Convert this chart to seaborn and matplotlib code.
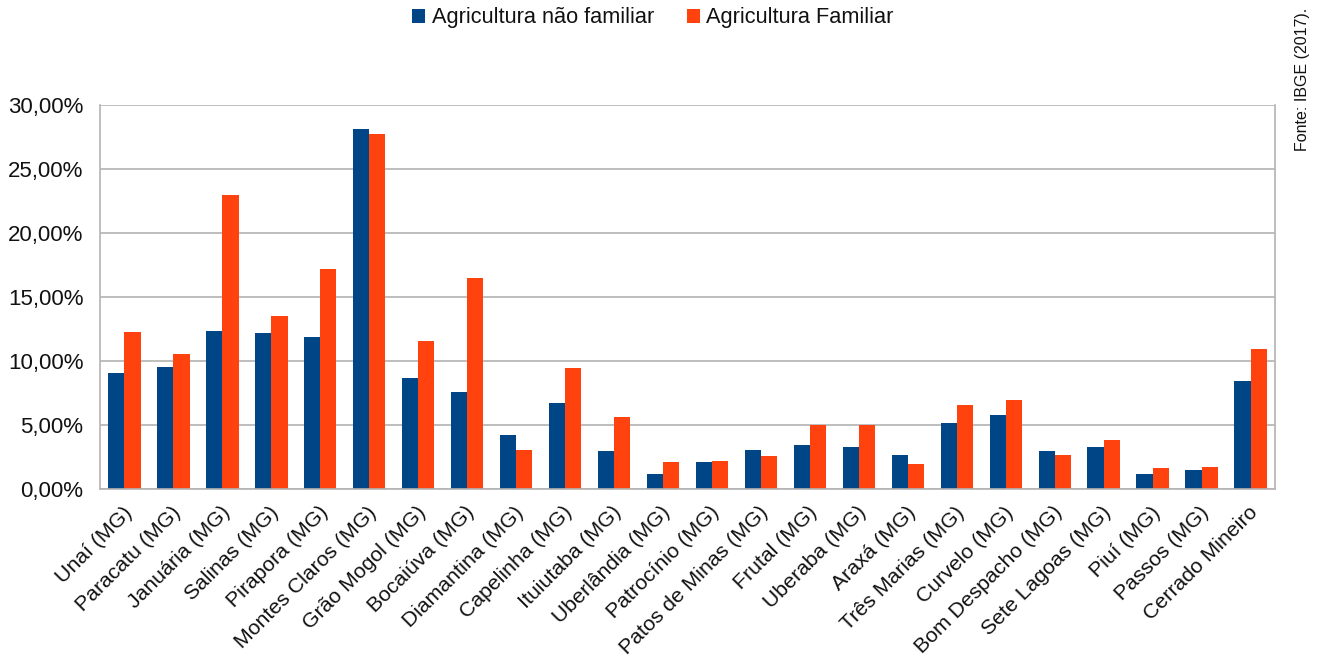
import matplotlib
matplotlib.use("Agg")
import matplotlib.pyplot as plt
import matplotlib.transforms as mtrans
import seaborn as sns
import pandas as pd
import numpy as np
from matplotlib.ticker import FuncFormatter, FixedLocator, MultipleLocator
from matplotlib.patches import Patch

categories = ["Unaí (MG)", "Paracatu (MG)", "Januária (MG)", "Salinas (MG)", "Pirapora (MG)",
              "Montes Claros (MG)", "Grão Mogol (MG)", "Bocaiúva (MG)", "Diamantina (MG)",
              "Capelinha (MG)", "Ituiutaba (MG)", "Uberlândia (MG)", "Patrocínio (MG)",
              "Patos de Minas (MG)", "Frutal (MG)", "Uberaba (MG)", "Araxá (MG)",
              "Três Marias (MG)", "Curvelo (MG)", "Bom Despacho (MG)", "Sete Lagoas (MG)",
              "Piuí (MG)", "Passos (MG)", "Cerrado Mineiro"]
nao_familiar = [9.05, 9.55, 12.35, 12.15, 11.85, 28.15, 8.65, 7.55, 4.25, 6.75, 2.95, 1.2,
                2.1, 3.05, 3.45, 3.25, 2.65, 5.15, 5.75, 2.95, 3.25, 1.2, 1.5, 8.45]
familiar = [12.25, 10.55, 23.0, 13.55, 17.2, 27.75, 11.55, 16.5, 3.05, 9.45, 5.65, 2.1,
            2.2, 2.55, 5.0, 5.0, 1.95, 6.55, 6.95, 2.65, 3.85, 1.65, 1.7, 10.95]
series_names = ["Agricultura não familiar", "Agricultura Familiar"]
colors = ["#004586", "#FF420E"]

df = pd.DataFrame({
    "Região": categories * 2,
    "Valor": nao_familiar + familiar,
    "Série": [series_names[0]] * len(categories) + [series_names[1]] * len(categories),
})

sns.set_style("white")
plt.rcParams["font.family"] = ["Liberation Sans", "DejaVu Sans"]

fig = plt.figure(figsize=(13.2, 6.64), dpi=100)
ax = fig.add_axes([100 / 1320, 1 - 489 / 664, 1175 / 1320, 384 / 664])

sns.barplot(data=df, x="Região", y="Valor", hue="Série", palette=colors,
            width=0.66, saturation=1, ax=ax, legend=False, linewidth=0)

n = len(categories)
ax.set_xlim(-0.5, n - 0.5)
ax.set_ylim(0, 30)
ax.yaxis.set_major_locator(MultipleLocator(5))
ax.yaxis.set_major_formatter(FuncFormatter(lambda v, p: f"{v:.2f}%".replace(".", ",")))
ax.grid(axis="y", color="#b3b3b3", linewidth=1.2)
ax.set_axisbelow(True)

# category boundary ticks, labels at centers
ax.xaxis.set_major_locator(FixedLocator(np.arange(-0.5, n, 1.0)))
ax.xaxis.set_minor_locator(FixedLocator(np.arange(0, n, 1.0)))
ax.set_xticklabels([""] * (n + 1))
ax.set_xticklabels(categories, minor=True, rotation=45, ha="right",
                   rotation_mode="anchor", fontsize=15.3, color="#111111")
ax.tick_params(axis="x", which="minor", length=0, pad=10)
ax.tick_params(axis="x", which="major", length=6, color="#b3b3b3", width=1.2, direction="out")
ax.tick_params(axis="y", length=6, color="#b3b3b3", width=1.2, labelsize=16, pad=6,
               direction="out", labelcolor="#111111")
ax.set_xlabel("")
ax.set_ylabel("")
for side in ["left", "right", "bottom"]:
    ax.spines[side].set_color("#b3b3b3")
    ax.spines[side].set_linewidth(1.2)
ax.spines["top"].set_visible(False)

offset = mtrans.ScaledTranslation(-2 / 100, 0, fig.dpi_scale_trans)
for lab in ax.get_xticklabels(minor=True):
    lab.set_transform(lab.get_transform() + offset)

handles = [Patch(facecolor=c, edgecolor="none") for c in colors]
fig.legend(handles, series_names, loc="center", bbox_to_anchor=(653 / 1320, 1 - 18 / 664),
           ncol=2, frameon=False, fontsize=15.7, handlelength=0.6, handleheight=0.6,
           handletextpad=0.3, columnspacing=1.5, labelcolor="#111111")

fig.text(1303 / 1320, 1 - 8 / 664, "Fonte: IBGE (2017).", rotation=90, ha="center", va="top",
         fontsize=11.5, color="#111111")

fig.savefig("out.png", dpi=100)
